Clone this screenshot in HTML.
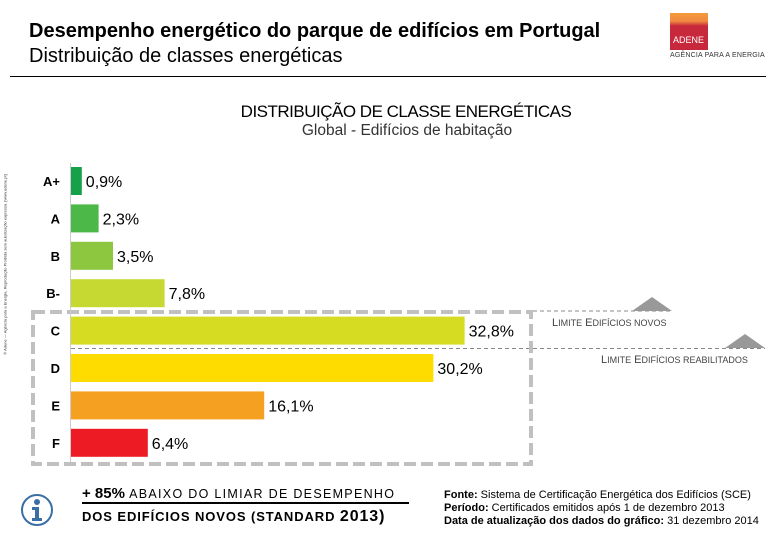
<!DOCTYPE html>
<html><head><meta charset="utf-8">
<style>
body{margin:0;background:#fff;font-family:"Liberation Sans",sans-serif;}
#wrap{position:relative;width:780px;height:540px;overflow:hidden;background:#fff;}
.t{position:absolute;white-space:nowrap;}
</style></head><body>
<div id="wrap">
<div class="t" style="left:29px;top:20px;font-size:20px;font-weight:bold;">Desempenho energético do parque de edifícios em Portugal</div>
<div class="t" style="left:29px;top:45px;font-size:20px;">Distribuição de classes energéticas</div>
<div style="position:absolute;left:10px;top:76px;width:756px;height:1px;background:#000;"></div>
<div style="position:absolute;left:670px;top:13px;width:38px;height:37px;background:linear-gradient(#f39a3a 0,#f08a40 22%,#c8283c 35%,#c8283c 100%);">
<div class="t" style="left:3px;top:22px;color:#fff;font-size:9px;">ADENE</div></div>
<div class="t" style="left:670px;top:52px;font-size:7px;color:#333;letter-spacing:0.2px;">AGÊNCIA PARA A ENERGIA</div>
<div class="t" style="left:-140px;top:262px;width:290px;font-size:4px;color:#333;transform:rotate(-90deg);text-align:center;">© Adene — Agência para a Energia. Reprodução Proibida sem autorização expressa. [www.adene.pt]</div>
<div class="t" style="left:0;width:812px;text-align:center;top:102px;font-size:17px;letter-spacing:-0.5px;">DISTRIBUIÇÃO DE CLASSE ENERGÉTICAS</div>
<div class="t" style="left:0;width:814px;text-align:center;top:122px;font-size:15.5px;color:#333;">Global - Edifícios de habitação</div>
<svg id="chart" width="780" height="540" style="position:absolute;left:0;top:0"></svg>
<div class="t" style="left:552px;top:317px;font-size:11px;color:#444;">L<span style="font-size:9px">IMITE</span> E<span style="font-size:9px">DIFÍCIOS NOVOS</span></div>
<div class="t" style="left:601px;top:354px;font-size:11px;color:#444;">L<span style="font-size:9px">IMITE</span> E<span style="font-size:9px">DIFÍCIOS REABILITADOS</span></div>
<svg width="34" height="34" style="position:absolute;left:20px;top:493px"><circle cx="17" cy="17" r="15" fill="#fff" stroke="#3a6fa5" stroke-width="2"/><circle cx="17" cy="9" r="3" fill="#3a6fa5"/><path d="M12 14h7v11h3v3h-10v-3h3v-8h-3z" fill="#3a6fa5"/></svg>
<div class="t" style="left:82px;top:485px;font-size:15px;font-weight:bold;border-bottom:2px solid #000;padding-right:14px;">+ 85% <span style="font-size:12.5px;font-weight:normal;letter-spacing:1.3px">ABAIXO DO LIMIAR DE DESEMPENHO</span></div>
<div class="t" style="left:82px;top:508px;font-size:13px;font-weight:bold;letter-spacing:0.9px;">DOS EDIFÍCIOS NOVOS (STANDARD <span style="font-size:16px">2013)</span></div>
<div class="t" style="left:444px;top:489px;font-size:11px;line-height:13px;letter-spacing:0px;"><b>Fonte:</b> Sistema de Certificação Energética dos Edifícios (SCE)<br><b>Período:</b> Certificados emitidos após 1 de dezembro 2013<br><b>Data de atualização dos dados do gráfico:</b> 31 dezembro 2014</div>
</div>
<script>
const categories=["A+","A","B","B-","C","D","E","F"];
const values=[0.9,2.3,3.5,7.8,32.8,30.2,16.1,6.4];
const valueLabels=["0,9%","2,3%","3,5%","7,8%","32,8%","30,2%","16,1%","6,4%"];
const colors=["#15a04a","#4cb848","#8dc63f","#c5d932","#d5dc22","#ffdc00","#f5a020","#ed1c24"];
const NS="http://www.w3.org/2000/svg";
const svg=document.getElementById('chart');
const x0=71,pxPer=12,y0=167,pitch=37.4,bh=28;
const xs=v=>x0+v*pxPer;
const ys=i=>y0+i*pitch;
function mk(t,a){const e=document.createElementNS(NS,t);for(const k in a)e.setAttribute(k,a[k]);svg.appendChild(e);return e;}
let l1=mk('line',{x1:533,y1:311,x2:672,y2:311,stroke:'#888','stroke-dasharray':'4,3','stroke-width':1});


let l2=mk('line',{x1:71,y1:348.5,x2:765,y2:348.5,stroke:'#888','stroke-dasharray':'4,3','stroke-width':1});


let t1=mk('polygon',{points:'632,311 652,297 672,311',fill:'#999'});


let t2=mk('polygon',{points:'725,348 745,334 765,348',fill:'#999'});


let box=mk('rect',{x:33,y:312,width:498,height:152,fill:'none',stroke:'#c0c0c0','stroke-width':4,'stroke-dasharray':'12,5'});


let ax=mk('line',{x1:70.5,y1:163,x2:70.5,y2:462,stroke:'#ccc','stroke-width':1});


categories.forEach((c,i)=>{
  const y=ys(i);
  const r=mk('rect',{x:x0,y:y,width:xs(values[i])-x0,height:bh,fill:colors[i]});
  
  
  const lb=mk('text',{x:60,y:y+bh/2+5,'text-anchor':'end','font-size':13,'font-weight':'bold','font-family':'Liberation Sans, sans-serif'});
  lb.textContent=c;
  
  
  const vl=mk('text',{x:xs(values[i])+4,y:y+bh/2+6,'font-size':16,'font-family':'Liberation Sans, sans-serif'});
  vl.textContent=valueLabels[i];
  
  
});
</script>
</body></html>
